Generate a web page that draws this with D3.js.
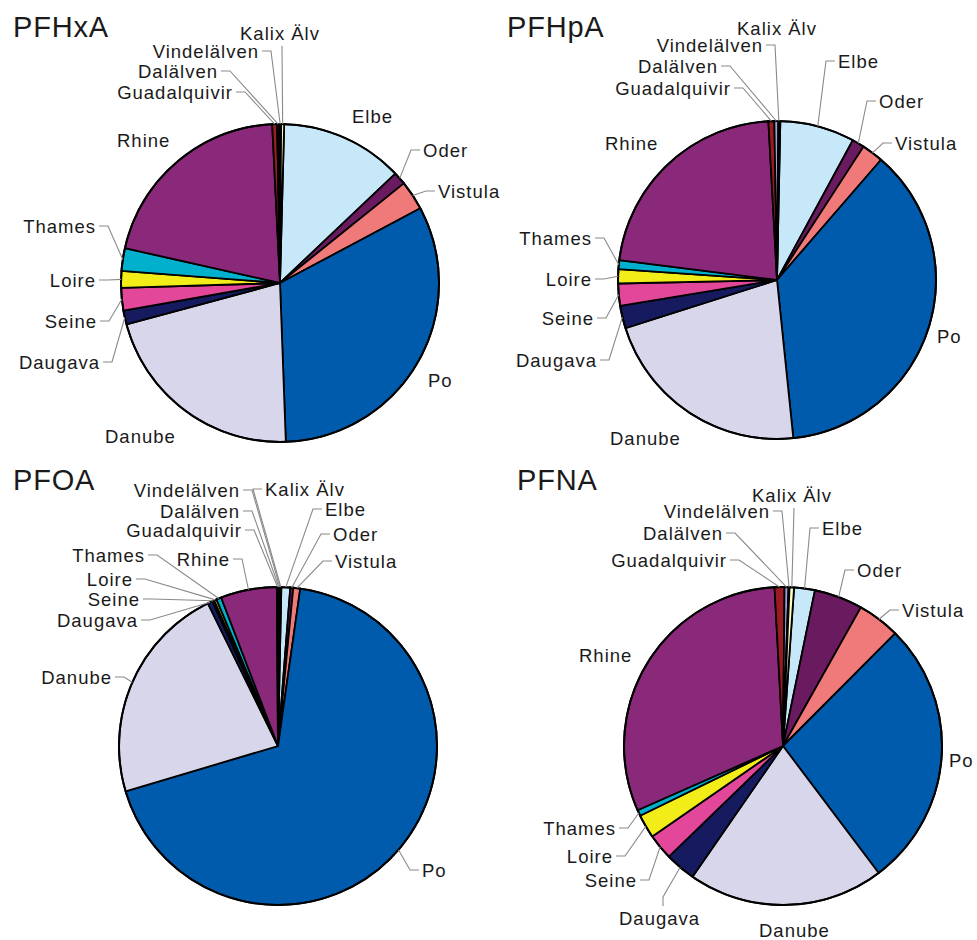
<!DOCTYPE html>
<html><head><meta charset="utf-8">
<script src="https://cdn.jsdelivr.net/npm/d3@7"></script>
<style>
body{margin:0;background:#fff;}
svg{display:block;}
text{font-family:"Liberation Sans",Arial,sans-serif;fill:#1a1a1a;}
</style></head>
<body>
<svg id="chart" width="977" height="940"></svg>
<script>
// ---- data ----
const rivers = ["Elbe","Oder","Vistula","Po","Danube","Daugava","Seine","Loire","Thames","Rhine","Guadalquivir","Dalälven","Vindelälven","Kalix Älv"];
const compounds = ["PFHxA","PFHpA","PFOA","PFNA"];
const pfhxa = [12.5,1.3,3.0,32.2,21.4,1.4,2.3,1.7,2.3,20.7,0.5,0.2,0.2,0.3];
const pfhpa = [7.6,1.25,2.2,37.1,21.8,2.3,2.25,1.45,0.9,22.2,0.6,0.4,0.1,0.1];
const pfoa  = [0.9,0.3,0.7,68.1,22.3,0.5,0.2,0.25,0.5,5.7,0.15,0.1,0.1,0.1];
const pfna  = [2.1,4.9,4.3,27.1,19.8,3.1,2.6,2.4,0.6,30.6,1.0,0.4,0.1,0.45];
const seriesValues = [pfhxa,pfhpa,pfoa,pfna];

// ---- styles / layout ----
const colors = ["#c6e8f8","#6a1a5e","#f07a7a","#005bac","#d8d6ea","#151b5e","#e2479a","#f2ec19","#00b0cc","#8a287a","#9b1b22","#a0a0dc","#f4f4dc","#ffffc0"];
const centers = [[280,283],[777,280],[278,746],[783,746]];
const startDeg = [1.5,1.2,1.2,4];
const titlePos = [[13,37],[507,37],[13,490],[517,490]];
const R = 159;
// label layout: [river, dx, dy(baseline), anchor, leader]
const labelLayout = [
 [["Kalix Älv",0,-243,"middle","down"],["Vindelälven",-21,-225,"end","h"],["Dalälven",-62,-205,"end","h"],["Guadalquivir",-47,-184,"end","h"],
  ["Elbe",72,-160,"start",""],["Oder",143,-126,"start","h"],["Vistula",158,-85,"start","h"],["Po",148,104,"start",""],
  ["Danube",-175,160,"start",""],["Rhine",-163,-136,"start",""],["Thames",-184,-50,"end","h"],["Loire",-184,4,"end","h"],
  ["Seine",-183,45,"end","h"],["Daugava",-180,86,"end","h"]],
 [["Kalix Älv",0,-245,"middle",""],["Vindelälven",-14,-228,"end","h"],["Dalälven",-59,-207,"end","h"],["Guadalquivir",-46,-185,"end","h"],
  ["Elbe",61,-212,"start","h"],["Oder",102,-172,"start","h"],["Vistula",118,-130,"start","h"],["Po",160,63,"start",""],
  ["Danube",-167,165,"start",""],["Rhine",-172,-130,"start",""],["Thames",-185,-35,"end","h"],["Loire",-185,6,"end","h"],
  ["Seine",-183,45,"end","h"],["Daugava",-180,87,"end","h"]],
 [["Kalix Älv",-13,-250,"start","h"],["Vindelälven",-38,-249,"end","h"],["Dalälven",-38,-228,"end","h"],["Guadalquivir",-36,-209,"end","h"],
  ["Elbe",47,-230,"start","h"],["Oder",55,-205,"start","h"],["Vistula",57,-178,"start","h"],["Po",144,131,"start","h"],
  ["Danube",-166,-62,"end","h"],["Rhine",-48,-180,"end","h"],["Thames",-133,-184,"end","h"],["Loire",-145,-160,"end","h"],
  ["Seine",-138,-140,"end","h"],["Daugava",-140,-119,"end","h"]],
 [["Kalix Älv",9,-244,"middle","down"],["Vindelälven",-13,-228,"end","h"],["Dalälven",-60,-206,"end","h"],["Guadalquivir",-56,-179,"end","h"],
  ["Elbe",39,-211,"start","h"],["Oder",74,-169,"start","h"],["Vistula",119,-129,"start","h"],["Po",166,21,"start",""],
  ["Danube",-24,191,"start",""],["Rhine",-204,-84,"start",""],["Thames",-167,89,"end","h"],["Loire",-170,117,"end","h"],
  ["Seine",-146,141,"end","h"],["Daugava",-164,179,"start","up"]]
];

const svg = d3.select("#chart");
const arc = d3.arc().innerRadius(0).outerRadius(R);
const color = d3.scaleOrdinal().domain(rivers).range(colors);

compounds.forEach((name,ci)=>{
  const vals = seriesValues[ci];
  const data = rivers.map((r,i)=>({river:r,value:vals[i]}));
  const a0 = startDeg[ci]*Math.PI/180;
  const pie = d3.pie().sort(null).value(d=>d.value).startAngle(a0).endAngle(a0+2*Math.PI);
  const arcs = pie(data);
  const [cx,cy] = centers[ci];
  const g = svg.append("g").attr("transform",`translate(${cx},${cy})`);

  const byName = {};
  arcs.forEach(a=>byName[a.data.river]=a);
  const lg = svg.append("g").attr("transform",`translate(${cx},${cy})`);
  labelLayout[ci].forEach(([rv,dx,dy,anchor,lead])=>{
    if(!lead) return;
    const a = byName[rv];
    const mid = (a.startAngle+a.endAngle)/2;
    const ex = Math.sin(mid)*(R), ey = -Math.cos(mid)*(R);
    let pts;
    if(lead==="h"){
      const y = dy-7;
      if(anchor==="end") pts=[[dx+3,y],[dx+12,y],[ex,ey]];
      else pts=[[dx-3,y],[dx-12,y],[ex,ey]];
    } else if(lead==="down"){
      pts=[[dx+2,dy+6],[ex,ey]];
    } else if(lead==="up"){
      pts=[[dx+44,dy-19],[dx+44,dy-28],[ex,ey]];
    }
    lg.append("path").attr("d",d3.line()(pts)).attr("fill","none").attr("stroke","#8a8a8a").attr("stroke-width",1.1);
  });

  g.selectAll("path.slice").data(arcs).join("path").attr("class","slice")
    .attr("d",arc).attr("fill",d=>color(d.data.river))
    .attr("stroke","#000").attr("stroke-width",1.8).attr("stroke-linejoin","round");
  g.append("circle").attr("r",R).attr("fill","none").attr("stroke","#000").attr("stroke-width",2);

  labelLayout[ci].forEach(([rv,dx,dy,anchor])=>{
    lg.append("text").attr("x",dx).attr("y",dy).attr("text-anchor",anchor)
      .attr("font-size",18.5).attr("letter-spacing",1.0).text(rv);
  });
  svg.append("text").attr("x",titlePos[ci][0]).attr("y",titlePos[ci][1])
    .attr("font-size",29).attr("letter-spacing",0.8).text(name);
});
</script>
</body></html>
